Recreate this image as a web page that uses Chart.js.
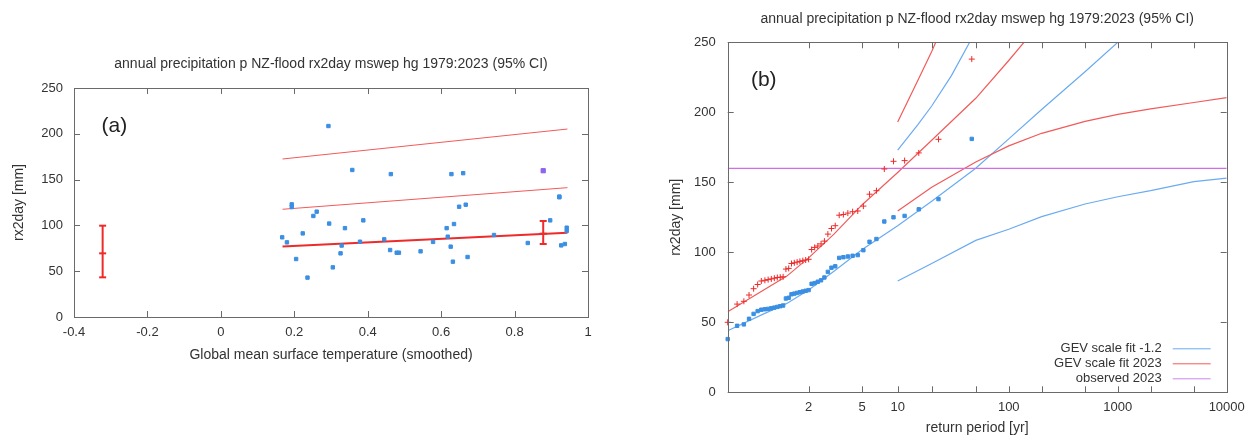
<!DOCTYPE html>
<html>
<head>
<meta charset="utf-8">
<script src="https://cdn.jsdelivr.net/npm/chart.js@4.4.1/dist/chart.umd.min.js"></script>
<style>
  body { margin: 0; background: #fff; width: 1252px; height: 437px; position: relative; overflow: hidden; }
  canvas { position: absolute; top: 0; }
  #graficaA { left: 0; }
  #graficaB { left: 640px; }
</style>
</head>
<body>
<canvas id="graficaA" width="640" height="437"></canvas>
<canvas id="graficaB" width="612" height="437"></canvas>
<script>

// Datos panel (a): rx2day contra temperatura media global (suavizada)

const gmst = [0.167, 0.18, 0.193, 0.193, 0.205, 0.223, 0.236, 0.252, 0.261, 0.293, 0.295, 0.305, 0.326, 0.329, 0.338, 0.358, 0.379, 0.388, 0.445, 0.461, 0.463, 0.479, 0.485, 0.544, 0.578, 0.615, 0.618, 0.626, 0.628, 0.632, 0.635, 0.649, 0.66, 0.667, 0.672, 0.744, 0.836, 0.897, 0.922, 0.922, 0.927, 0.937, 0.942, 0.942];
const rx2day = [87, 81.5, 123, 120, 63.3, 91.3, 43, 110.3, 115, 208.5, 102, 54.2, 69.5, 78, 97, 160.5, 82.2, 105.5, 84.8, 73.1, 156, 70.2, 70.2, 71.7, 82, 97, 87.7, 76.8, 156, 60.4, 101.5, 120.4, 157, 122.6, 65.5, 89.5, 80.8, 105.5, 130.7, 131.5, 78.2, 79.7, 97.5, 94];
const gmst2023 = [0.878];
const rx2day2023 = [159.7];

// rectas del ajuste (media, periodo 6 y 40 años)
const fitX = [0.168, 0.944];
const fitMean = [77, 92];
const fitMid = [117.6, 141.2];
const fitTop = [172.5, 205.2];

// barras de error (95% CI)
const errX = [-0.322, 0.878];
const errLo = [43.3, 79.7];
const errMid = [69.5, 91];
const errHi = [99.7, 104.8];

const xTicksA = [-0.4, -0.2, 0, 0.2, 0.4, 0.6, 0.8, 1];

// Datos panel (b): periodo de retorno

const returnPeriods = [1.022, 1.045, 1.070, 1.095, 1.122, 1.150, 1.179, 1.211, 1.243, 1.278, 1.314, 1.353, 1.394, 1.438, 1.484, 1.533, 1.586, 1.643, 1.704, 1.769, 1.840, 1.917, 2.000, 2.091, 2.190, 2.300, 2.421, 2.556, 2.706, 2.875, 3.067, 3.286, 3.538, 3.833, 4.182, 4.600, 5.111, 5.750, 6.571, 7.667, 9.200, 11.50, 15.33, 23.00, 46.00];
const obsCold = [38, 47.5, 48.5, 52.5, 56, 58, 59, 59.3, 59.6, 60, 60.5, 61, 61.5, 62, 67, 67.5, 70, 70.5, 71, 71.5, 72, 72.5, 73, 77.5, 78, 79, 80, 82, 86, 89, 90, 96, 96.5, 97, 97.5, 98, 101.5, 107.5, 109.5, 122, 125, 126, 130.7, 138, 181];
const obsNow = [50, 63, 65, 69.5, 74, 77, 79.5, 80, 80.5, 81, 81.5, 82, 82.2, 82.5, 88, 88.5, 92, 92.5, 93, 93.5, 94, 94.5, 95, 102, 103.5, 104.5, 106, 108, 113, 117, 119, 126.5, 127, 128, 129, 129.5, 133, 141.5, 144, 159.5, 165, 165.5, 171, 180.7, 238];

const fitPeriods = [1.022, 1.2, 1.5, 2, 3, 5, 10, 20, 50, 100, 200, 500, 1000, 2000];
const gevCold = [44, 56, 63.5, 73, 86.5, 102, 119, 136.5, 160, 181, 202, 229, 250, 271];
const gevNow = [57.5, 73, 83, 96, 113, 134, 157, 180, 210, 237, 265, 300, 328, 355];

const ciPeriods = [10, 20, 50, 100, 200, 500, 1000, 2000, 5000, 10000];
const gevColdLo = [79.5, 92, 108.5, 116.5, 125.5, 134.5, 139.7, 144, 150.5, 153];
const gevNowLo = [129.5, 146.5, 164.5, 176, 185, 193.5, 198.5, 202.5, 207, 210.5];

const ciHiPeriods = [10, 15, 20, 30, 50];
const gevColdHi = [173, 191, 204.5, 226, 258];
const gevNowHi = [193, 222.5, 243.5, 275, 320];

const observed2023 = [160, 160];
const observedPeriods = [1.022, 10000];

const tickPeriods = [2, 5, 10, 20, 50, 100, 200, 500, 1000, 2000, 5000, 10000];
const tickLabelsB = ['2', '5', '10', '', '', '100', '', '', '1000', '', '', '10000'];

const titulo = 'annual precipitation p NZ-flood rx2day mswep hg 1979:2023 (95% CI)';

// Colores

const azul = '#3b8fe3';
const azulLinea = '#6aabf2';
const rojo = '#ee2a2a';
const rojoLinea = '#f25a5a';
const morado = '#cf6ee6';

// Escala de Gumbel para el periodo de retorno
function gum(T) {
  return -Math.log(-Math.log(1 - 1 / T));
}

function pts(xs, ys, fx) {
  return xs.map((v, i) => ({ x: fx ? fx(v) : v, y: ys[i] }));
}

Chart.defaults.font.family = "'Liberation Sans', Arial, sans-serif";
Chart.defaults.font.size = 13;
Chart.defaults.color = '#333';

const sinRejilla = { display: false, drawTicks: false };

// Marco tipo gnuplot con marcas hacia dentro, textos y leyenda

const gnuFrame = {
  id: 'gnuFrame',
  afterDatasetsDraw(chart, args, opts) {
    const { ctx, chartArea: a, scales: { x, y } } = chart;
    const len = 6;
    ctx.save();
    ctx.strokeStyle = '#6a6a6a';
    ctx.lineWidth = 1;
    ctx.strokeRect(Math.round(a.left) + 0.5, Math.round(a.top) + 0.5, Math.round(a.width), Math.round(a.height));
    ctx.beginPath();
    x.ticks.forEach(t => {
      const px = Math.round(x.getPixelForValue(t.value)) + 0.5;
      ctx.moveTo(px, a.bottom); ctx.lineTo(px, a.bottom - len);
      ctx.moveTo(px, a.top); ctx.lineTo(px, a.top + len);
    });
    y.ticks.forEach(t => {
      const py = Math.round(y.getPixelForValue(t.value)) + 0.5;
      ctx.moveTo(a.left, py); ctx.lineTo(a.left + len, py);
      ctx.moveTo(a.right, py); ctx.lineTo(a.right - len, py);
    });
    ctx.stroke();

    (opts.notes || []).forEach(n => {
      ctx.font = "21px 'Liberation Sans', Arial, sans-serif";
      ctx.fillStyle = '#222';
      ctx.textAlign = 'center';
      ctx.textBaseline = 'middle';
      ctx.fillText(n.text, x.getPixelForValue(n.x), y.getPixelForValue(n.y));
    });

    (opts.legend || []).forEach((item, i) => {
      const ly = a.bottom - 44 + i * 15;
      ctx.font = "13px 'Liberation Sans', Arial, sans-serif";
      ctx.fillStyle = '#333';
      ctx.textAlign = 'right';
      ctx.textBaseline = 'middle';
      ctx.fillText(item.text, a.right - 65, ly);
      ctx.strokeStyle = item.color;
      ctx.lineWidth = 1;
      ctx.beginPath();
      ctx.moveTo(a.right - 54, ly + 0.5);
      ctx.lineTo(a.right - 16, ly + 0.5);
      ctx.stroke();
    });
    ctx.restore();
  }
};

// Grafica (a)

const errorSets = errX.map((ex, i) => ({
  data: [{ x: ex, y: errLo[i] }, { x: ex, y: errMid[i] }, { x: ex, y: errHi[i] }],
  showLine: true,
  borderColor: rojo,
  borderWidth: 2,
  pointStyle: 'line',
  pointRadius: 3.5,
  pointBorderWidth: 2,
  pointBorderColor: rojo,
  order: 0
}));

const graficaA = new Chart(document.getElementById('graficaA'), {
  type: 'scatter',
  data: {
    datasets: [
      ...errorSets,
      {
        data: pts(gmst2023, rx2day2023),
        pointStyle: 'rect', pointRadius: 3, pointBorderWidth: 1,
        backgroundColor: '#8d63f0', borderColor: '#8d63f0',
        order: 1
      },
      {
        data: pts(gmst, rx2day),
        pointStyle: 'rect', pointRadius: 2.4, pointBorderWidth: 1,
        backgroundColor: azul, borderColor: azul,
        order: 2
      },
      {
        data: pts(fitX, fitMean),
        showLine: true, pointRadius: 0, borderColor: rojo, borderWidth: 2,
        order: 3
      },
      {
        data: pts(fitX, fitMid),
        showLine: true, pointRadius: 0, borderColor: rojoLinea, borderWidth: 1,
        order: 4
      },
      {
        data: pts(fitX, fitTop),
        showLine: true, pointRadius: 0, borderColor: rojoLinea, borderWidth: 1,
        order: 5
      }
    ]
  },
  options: {
    responsive: false,
    animation: false,
    layout: { padding: { left: 0, right: 52, top: 0, bottom: 0 } },
    scales: {
      x: {
        type: 'linear', min: -0.4, max: 1,
        grid: sinRejilla, border: { display: false },
        afterBuildTicks: axis => { axis.ticks = xTicksA.map(v => ({ value: v })); },
        afterFit: scale => { scale.height = 120; },
        ticks: { padding: 8, autoSkip: false, maxRotation: 0, callback: v => String(Number(v.toFixed(1))) },
        title: { display: true, text: 'Global mean surface temperature (smoothed)', font: { size: 14 }, padding: { top: 0, bottom: 73.6 } }
      },
      y: {
        min: 0, max: 250,
        grid: sinRejilla, border: { display: false },
        afterFit: scale => { scale.width = 74; },
        ticks: { stepSize: 50, padding: 11 },
        title: { display: true, text: 'rx2day [mm]', font: { size: 14 }, padding: { top: 10.6, bottom: 0 } }
      }
    },
    plugins: {
      legend: { display: false },
      tooltip: { enabled: false },
      title: { display: true, text: titulo, fullSize: false, font: { size: 14, weight: 'normal' }, padding: { top: 55.6, bottom: 15.6 } },
      gnuFrame: { notes: [{ text: '(a)', x: -0.29, y: 208 }] }
    }
  },
  plugins: [gnuFrame]
});

// Grafica (b)

const graficaB = new Chart(document.getElementById('graficaB'), {
  type: 'scatter',
  data: {
    datasets: [
      {
        data: pts(returnPeriods, obsNow, gum),
        pointStyle: 'cross', pointRadius: 3, pointBorderWidth: 1,
        borderColor: rojo, backgroundColor: rojo, clip: 5
      },
      {
        data: pts(returnPeriods, obsCold, gum),
        pointStyle: 'rect', pointRadius: 2.4, pointBorderWidth: 1,
        borderColor: azul, backgroundColor: azul, clip: 5
      },
      { data: pts(observedPeriods, observed2023, gum), showLine: true, pointRadius: 0, borderColor: morado, borderWidth: 1.3 },
      { data: pts(fitPeriods, gevNow, gum), showLine: true, pointRadius: 0, borderColor: rojoLinea, borderWidth: 1.2 },
      { data: pts(ciPeriods, gevNowLo, gum), showLine: true, pointRadius: 0, borderColor: rojoLinea, borderWidth: 1.2 },
      { data: pts(ciHiPeriods, gevNowHi, gum), showLine: true, pointRadius: 0, borderColor: rojoLinea, borderWidth: 1.2 },
      { data: pts(fitPeriods, gevCold, gum), showLine: true, pointRadius: 0, borderColor: azulLinea, borderWidth: 1.2 },
      { data: pts(ciPeriods, gevColdLo, gum), showLine: true, pointRadius: 0, borderColor: azulLinea, borderWidth: 1.2 },
      { data: pts(ciHiPeriods, gevColdHi, gum), showLine: true, pointRadius: 0, borderColor: azulLinea, borderWidth: 1.2 }
    ]
  },
  options: {
    responsive: false,
    animation: false,
    layout: { padding: { left: 0, right: 25.3, top: 0, bottom: 0 } },
    scales: {
      x: {
        type: 'linear', min: gum(returnPeriods[0]), max: gum(10000),
        grid: sinRejilla, border: { display: false },
        afterBuildTicks: axis => { axis.ticks = tickPeriods.map(T => ({ value: gum(T) })); },
        afterFit: scale => { scale.height = 44.7; },
        ticks: { padding: 7, autoSkip: false, maxRotation: 0, callback: (v, i) => tickLabelsB[i] },
        title: { display: true, text: 'return period [yr]', font: { size: 14 }, padding: { top: 0, bottom: 0 } }
      },
      y: {
        min: 0, max: 250,
        grid: sinRejilla, border: { display: false },
        afterFit: scale => { scale.width = 87.7; },
        ticks: { stepSize: 50, padding: 12 },
        title: { display: true, text: 'rx2day [mm]', font: { size: 14 }, padding: { top: 27.6, bottom: 0 } }
      }
    },
    plugins: {
      legend: { display: false },
      tooltip: { enabled: false },
      title: { display: true, text: titulo, fullSize: false, font: { size: 14, weight: 'normal' }, padding: { top: 10.6, bottom: 14.9 } },
      gnuFrame: {
        notes: [{ text: '(b)', x: gum(1.2), y: 223 }],
        legend: [
          { text: 'GEV scale fit -1.2', color: azulLinea },
          { text: 'GEV scale fit 2023', color: rojoLinea },
          { text: 'observed 2023', color: '#cc88ee' }
        ]
      }
    }
  },
  plugins: [gnuFrame]
});
</script>
</body>
</html>
